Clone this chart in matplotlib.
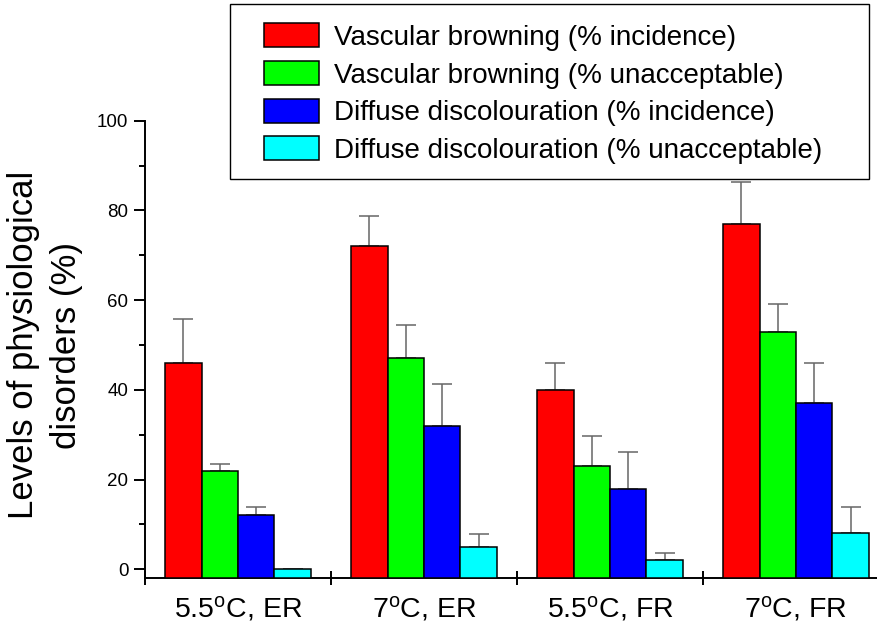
import matplotlib
matplotlib.use("Agg")
import matplotlib.pyplot as plt
import numpy as np
from matplotlib.patches import Rectangle
from matplotlib.ticker import MultipleLocator

plt.rcParams['font.family'] = ['Liberation Sans', 'DejaVu Sans']
plt.rcParams['mathtext.fontset'] = 'custom'
plt.rcParams['mathtext.rm'] = 'Liberation Sans'
plt.rcParams['mathtext.it'] = 'Liberation Sans:italic'

# ---- data ----
categories = [r'5.5$^{\mathrm{o}}$C, ER', r'7$^{\mathrm{o}}$C, ER',
              r'5.5$^{\mathrm{o}}$C, FR', r'7$^{\mathrm{o}}$C, FR']
series_names = ['Vascular browning (% incidence)',
                'Vascular browning (% unacceptable)',
                'Diffuse discolouration (% incidence)',
                'Diffuse discolouration (% unacceptable)']
vb_incidence = [46, 72, 40, 77]
vb_incidence_err = [9.7, 6.8, 5.9, 9.4]
vb_unacceptable = [22, 47, 23, 53]
vb_unacceptable_err = [1.5, 7.4, 6.8, 6.1]
dd_incidence = [12, 32, 18, 37]
dd_incidence_err = [1.8, 9.3, 8.2, 8.9]
dd_unacceptable = [0, 5, 2, 8]
dd_unacceptable_err = [0, 2.9, 1.6, 5.9]
yticks = [0, 20, 40, 60, 80, 100]

series = [vb_incidence, vb_unacceptable, dd_incidence, dd_unacceptable]
errors = [vb_incidence_err, vb_unacceptable_err, dd_incidence_err, dd_unacceptable_err]
colors = ['#ff0000', '#00ff00', '#0000ff', '#00ffff']

W, H = 878, 625
fig = plt.figure(figsize=(W / 100, H / 100), dpi=100)
ax = fig.add_axes([145 / W, 1 - 578.3 / H, 744 / W, (578.3 - 120.7) / H])

ymin, ymax = -2, 100
x = np.arange(len(categories))
bw = 0.196
handles = []
for i, (vals, errs, c) in enumerate(zip(series, errors, colors)):
    vals = np.array(vals, dtype=float)
    pos = x + (i - 1.5) * bw
    b = ax.bar(pos, vals - ymin, bottom=ymin, width=bw, color=c,
               edgecolor='black', linewidth=1.1, zorder=3)
    handles.append(b)
    ax.errorbar(pos, vals, yerr=[np.zeros_like(vals), np.array(errs)],
                fmt='none', ecolor='#666666', elinewidth=1.1, capsize=7.5,
                capthick=1.1, zorder=2)

ax.set_xlim(-0.5, len(categories) - 0.5)
ax.set_ylim(ymin, ymax)

for s in ['top', 'right']:
    ax.spines[s].set_visible(False)
for s in ['left', 'bottom']:
    ax.spines[s].set_linewidth(1.4)

ax.set_yticks(yticks)
ax.yaxis.set_minor_locator(MultipleLocator(10))
ax.tick_params(axis='y', which='major', direction='out', length=8, width=1.4,
               labelsize=13.5, pad=4)
ax.tick_params(axis='y', which='minor', direction='out', length=4, width=1.4)

ax.set_xticks(np.arange(len(categories) + 1) - 0.5)
ax.set_xticklabels([])
ax.set_xticks(x, minor=True)
ax.set_xticklabels(categories, minor=True)
ax.tick_params(axis='x', which='major', direction='inout', length=10, width=1.4)
ax.tick_params(axis='x', which='minor', length=0, labelsize=20.5, pad=11)

fig.text(45 / W, 1 - 345 / H, 'Levels of physiological\ndisorders (%)',
         rotation=90, ha='center', va='center', multialignment='center',
         fontsize=25, linespacing=1.4)

# legend
fig.patches.append(Rectangle((230 / W, 1 - 179 / H), (869 - 230) / W, 175 / H,
                             transform=fig.transFigure, fill=False,
                             edgecolor='black', linewidth=1.0))
fig.legend(handles, series_names, loc='upper left',
           bbox_to_anchor=(264 / W, 1 - 23.5 / H), bbox_transform=fig.transFigure,
           frameon=False, borderpad=0, borderaxespad=0, fontsize=20,
           handlelength=1.99, handleheight=0.95, handletextpad=0.54,
           labelspacing=0.36)

fig.savefig('out.png', dpi=100)
